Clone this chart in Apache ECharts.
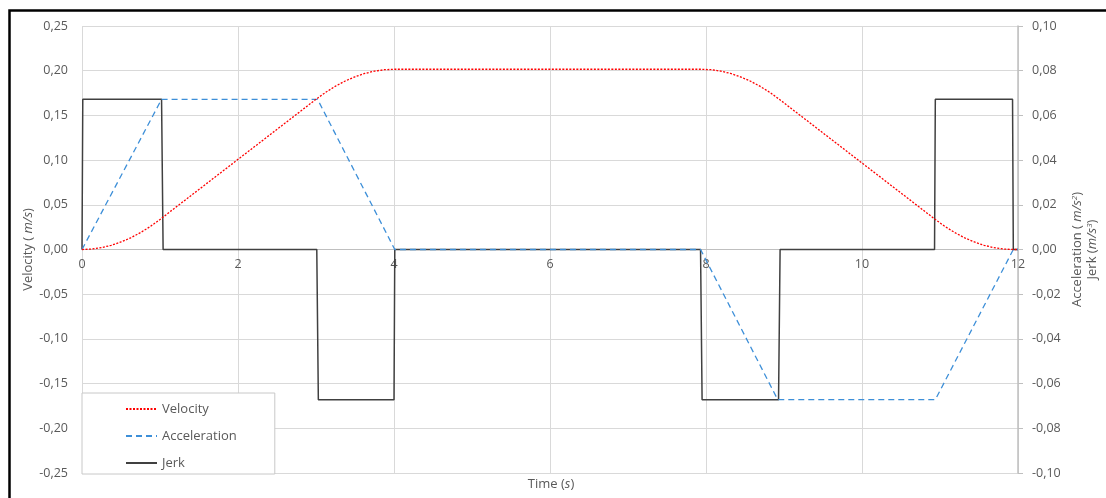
<!DOCTYPE html>
<html>
<head>
<meta charset="utf-8">
<script src="https://cdn.jsdelivr.net/npm/echarts@6/dist/echarts.min.js"></script>
<style>html,body{margin:0;padding:0;background:#fff}#c{width:1106px;height:498px}</style>
</head>
<body>
<div id="c"></div>
<script>
// Velocity (m/s)
const velTime = [0, 0.125, 0.25, 0.375, 0.5, 0.625, 0.75, 0.875, 1, 3, 3.125, 3.25, 3.375, 3.5, 3.625, 3.75, 3.875, 4,
  7.94, 8.065, 8.19, 8.315, 8.44, 8.565, 8.69, 8.815, 8.94, 10.94, 11.065, 11.19, 11.315, 11.44, 11.565, 11.69, 11.815, 11.94, 12];
const velocity = [0, 0.0005, 0.0021, 0.0047, 0.0084, 0.0131, 0.0189, 0.0257, 0.0336, 0.168, 0.1759, 0.1827, 0.1885, 0.1932, 0.1969, 0.1995, 0.2011, 0.2016,
  0.2016, 0.2011, 0.1995, 0.1969, 0.1932, 0.1885, 0.1827, 0.1759, 0.168, 0.0336, 0.0257, 0.0189, 0.0131, 0.0084, 0.0047, 0.0021, 0.0005, 0, 0];
// Acceleration (m/s^2), right axis
const accTime = [0, 1.02, 3.02, 4.01, 7.93, 8.92, 10.94, 11.94, 12];
const acceleration = [0, 0.0672, 0.0672, 0, 0, -0.0672, -0.0672, 0, 0];
// Jerk (m/s^3), right axis
const jerkTime = [0, 0.01, 1.02, 1.04, 3.01, 3.03, 4.0, 4.01, 7.93, 7.95, 8.93, 8.95, 10.93, 10.94, 11.93, 11.94, 12];
const jerk = [0, 0.0672, 0.0672, 0, 0, -0.0672, -0.0672, 0, 0, -0.0672, -0.0672, 0, 0, 0.0672, 0.0672, 0, 0];
const xTicks = {min: 0, max: 12, interval: 2};
const leftTicks = {min: -0.25, max: 0.25, interval: 0.05};
const rightTicks = {min: -0.1, max: 0.1, interval: 0.02};

const pair = (xs, ys) => xs.map((x, i) => [x, ys[i]]);
const fmt = v => (Math.round(v * 100) / 100).toFixed(2).replace('.', ',');
const FONT = 'Open Sans';
const GREY = '#595959';
const TICK_FS = 12.5;
const NAME_FS = 13;
const GRID = {left: 82, right: 88, top: 26, bottom: 25};
const gridHeight = 498 - GRID.top - GRID.bottom;

const chart = echarts.init(document.getElementById('c'));
chart.setOption({
  animation: false,
  textStyle: {fontFamily: FONT},
  grid: Object.assign({containLabel: false, outerBoundsMode: 'none'}, GRID),
  legend: {
    orient: 'vertical', left: 82, top: 393,
    itemWidth: 31, itemHeight: 14, itemGap: 13,
    padding: [9, 38, 4, 43],
    backgroundColor: '#fff', borderColor: '#c8c8c8', borderWidth: 1,
    itemStyle: {opacity: 0},
    textStyle: {fontFamily: FONT, fontSize: NAME_FS, color: GREY, lineHeight: 14},
    data: ['Velocity', 'Acceleration', 'Jerk']
  },
  xAxis: {
    type: 'value', min: xTicks.min, max: xTicks.max, interval: xTicks.interval,
    position: 'bottom',
    // zero of the left axis sits in the middle of the grid
    offset: -gridHeight * (0 - leftTicks.min) / (leftTicks.max - leftTicks.min),
    axisLine: {onZero: false, lineStyle: {color: '#bfbfbf', width: 1}},
    axisTick: {show: false},
    axisLabel: {color: GREY, fontSize: TICK_FS, fontFamily: FONT, margin: 8},
    splitLine: {show: true, lineStyle: {color: '#d9d9d9'}}
  },
  yAxis: [{
    type: 'value', position: 'left',
    min: leftTicks.min, max: leftTicks.max, interval: leftTicks.interval,
    axisLine: {show: false, onZero: false}, axisTick: {show: false},
    axisLabel: {color: GREY, fontSize: TICK_FS, fontFamily: FONT, margin: 14, formatter: fmt},
    splitLine: {show: true, lineStyle: {color: '#d9d9d9'}},
    name: '{a|Velocity ( }{i|m/s}{a|)}', nameLocation: 'middle', nameGap: 47, nameRotate: 90,
    nameMoveOverlap: false,
    nameTextStyle: {rich: {
      a: {fontFamily: FONT, fontSize: NAME_FS, color: GREY},
      i: {fontFamily: FONT, fontSize: NAME_FS, color: GREY, fontStyle: 'italic'}
    }}
  }, {
    type: 'value', position: 'right',
    min: rightTicks.min, max: rightTicks.max, interval: rightTicks.interval,
    axisLine: {show: true, onZero: false, lineStyle: {color: '#bfbfbf', width: 1.5}},
    axisTick: {show: true, inside: false, length: 5, lineStyle: {color: '#bfbfbf'}},
    axisLabel: {color: GREY, fontSize: TICK_FS, fontFamily: FONT, margin: 14, formatter: fmt},
    splitLine: {show: false},
    name: '{a|Acceleration ( }{i|m/s}{sup|2}{a|)}\n{a|Jerk (}{i|m/s}{sup|3}{a|)}',
    nameLocation: 'middle', nameGap: 52, nameRotate: 90, nameMoveOverlap: false,
    nameTextStyle: {lineHeight: 15, rich: {
      a: {fontFamily: FONT, fontSize: NAME_FS, color: GREY, lineHeight: 15},
      i: {fontFamily: FONT, fontSize: NAME_FS, color: GREY, fontStyle: 'italic', lineHeight: 15},
      sup: {fontFamily: FONT, fontSize: 8, color: GREY, fontStyle: 'italic', padding: [0, 0, 6, 0], lineHeight: 15}
    }}
  }],
  graphic: [{
    type: 'rect', left: 7, top: 8, silent: true, z: 100,
    shape: {x: 0, y: 0, width: 1300, height: 700},
    style: {fill: 'none', stroke: '#000', lineWidth: 2.5}
  }, {
    type: 'text', x: 551, y: 478, z: 100,
    style: {
      text: '{a|Time (}{i|s}{a|)}', align: 'center',
      rich: {
        a: {fontFamily: FONT, fontSize: NAME_FS, fill: GREY},
        i: {fontFamily: FONT, fontSize: NAME_FS, fill: GREY, fontStyle: 'italic'}
      }
    }
  }],
  series: [{
    name: 'Velocity', type: 'line', yAxisIndex: 0, symbol: 'none',
    data: pair(velTime, velocity),
    lineStyle: {color: '#ff0000', width: 1.3, type: [2, 1.5]},
    itemStyle: {color: '#ff0000'}, z: 4
  }, {
    name: 'Acceleration', type: 'line', yAxisIndex: 1, symbol: 'none',
    data: pair(accTime, acceleration),
    lineStyle: {color: '#3d8fd8', width: 1.3, type: [6, 4]},
    itemStyle: {color: '#3d8fd8'}, z: 3
  }, {
    name: 'Jerk', type: 'line', yAxisIndex: 1, symbol: 'none',
    data: pair(jerkTime, jerk),
    lineStyle: {color: '#404040', width: 1.5},
    itemStyle: {color: '#404040'}, z: 2
  }]
});
</script>
</body>
</html>
